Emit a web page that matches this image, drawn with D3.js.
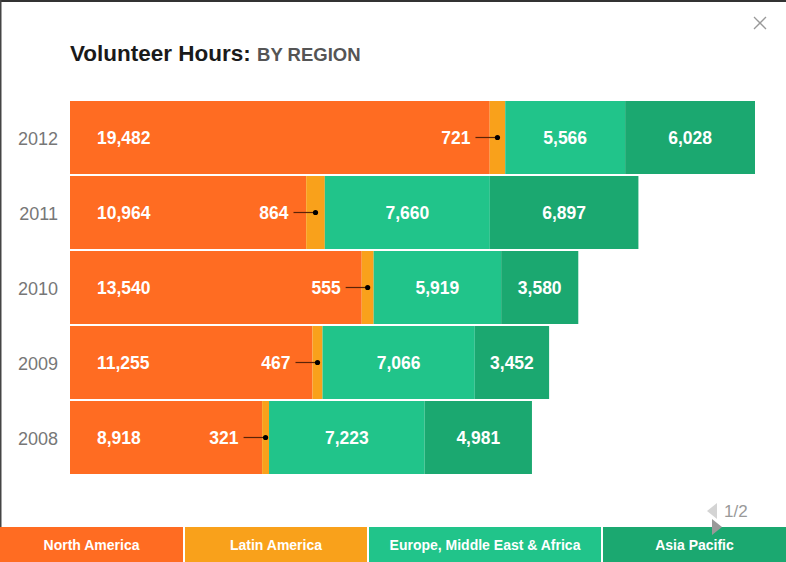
<!DOCTYPE html>
<html>
<head>
<meta charset="utf-8">
<script src="https://cdn.jsdelivr.net/npm/d3@7"></script>
<style>
  html, body { margin: 0; padding: 0; background: #fff; }
  svg { display: block; font-family: "Liberation Sans", Arial, Helvetica, sans-serif; }
</style>
</head>
<body>
<div id="chart"></div>
<script>
// data
var years = ["2012", "2011", "2010", "2009", "2008"];
var regions = ["North America", "Latin America", "Europe, Middle East & Africa", "Asia Pacific"];
var northAmerica = [19482, 10964, 13540, 11255, 8918];
var latinAmerica = [721, 864, 555, 467, 321];
var emea = [5566, 7660, 5919, 7066, 7223];
var asiaPacific = [6028, 6897, 3580, 3452, 4981];

var colors = ["#ff6c22", "#f9a11b", "#21c48a", "#1ba870"];

var W = 786, H = 562;

var svg = d3.select("#chart")
  .append("svg")
    .attr("width", W)
    .attr("height", H);

// frame lines (top / left)
svg.append("rect").attr("x", 0).attr("y", 0).attr("width", W).attr("height", 2).attr("fill", "#333");
svg.append("rect").attr("x", 0).attr("y", 0).attr("width", 1.5).attr("height", H).attr("fill", "#444");

// title
var title = svg.append("text")
  .attr("x", 70)
  .attr("y", 61);
title.append("tspan")
  .attr("font-size", "22.5px")
  .attr("font-weight", "bold")
  .attr("fill", "#1a1a1a")
  .text("Volunteer Hours: ");
title.append("tspan")
  .attr("font-size", "18.5px")
  .attr("font-weight", "bold")
  .attr("fill", "#555")
  .text("BY REGION");

// close icon
var close = svg.append("g").attr("transform", "translate(760,23)")
  .attr("stroke", "#999").attr("stroke-width", 1.3);
close.append("line").attr("x1", -6).attr("y1", -6).attr("x2", 6).attr("y2", 6);
close.append("line").attr("x1", -6).attr("y1", 6).attr("x2", 6).attr("y2", -6);

// build table
var table = years.map(function(y, i) {
  return { year: y, "North America": northAmerica[i], "Latin America": latinAmerica[i],
           "Europe, Middle East & Africa": emea[i], "Asia Pacific": asiaPacific[i] };
});

var series = d3.stack().keys(regions)(table);

var maxTotal = d3.max(series[series.length - 1], function(d) { return d[1]; });

var x = d3.scaleLinear()
  .domain([0, maxTotal])
  .range([70, 755]);

var y = d3.scaleBand()
  .domain(years)
  .range([101, 474])
  .paddingInner(2 / 75)
  .paddingOuter(0);

var fmt = d3.format(",");

// bars
svg.append("g").selectAll("g")
  .data(series)
  .enter()
  .append("g")
    .attr("fill", function(d, i) { return colors[i]; })
  .selectAll("rect")
  .data(function(d) { return d; })
  .enter()
  .append("rect")
    .attr("x", function(d) { return x(d[0]); })
    .attr("y", function(d) { return y(d.data.year); })
    .attr("width", function(d) { return x(d[1]) - x(d[0]); })
    .attr("height", y.bandwidth());

// year axis
var yAxis = svg.append("g")
  .attr("transform", "translate(58,0)")
  .call(d3.axisLeft(y).tickSize(0).tickPadding(0));
yAxis.select(".domain").remove();
yAxis.selectAll("text")
  .attr("font-family", "'Liberation Sans', Arial, sans-serif")
  .attr("font-size", "18px")
  .attr("fill", "#777")
  .attr("dy", "0.4em");

var labels = svg.append("g")
  .attr("font-size", "17.5px")
  .attr("font-weight", "bold")
  .attr("fill", "#fff");

// North America labels (left aligned)
labels.selectAll(".na")
  .data(series[0])
  .enter()
  .append("text")
    .attr("x", function(d) { return x(d[0]) + 27; })
    .attr("y", function(d) { return y(d.data.year) + y.bandwidth() / 2; })
    .attr("dy", "0.36em")
    .text(function(d) { return fmt(d[1] - d[0]); });

// Latin America: leader line + dot + label to the left
var lat = svg.append("g").selectAll("g")
  .data(series[1])
  .enter()
  .append("g")
    .attr("transform", function(d) {
      return "translate(" + ((x(d[0]) + x(d[1])) / 2) + "," + (y(d.data.year) + y.bandwidth() / 2) + ")";
    });
lat.append("line")
  .attr("x1", -22).attr("x2", 0)
  .attr("stroke", "#5a2408").attr("stroke-width", 1.2);
lat.append("circle")
  .attr("r", 2.6)
  .attr("fill", "#000");
lat.append("text")
  .attr("x", -27)
  .attr("dy", "0.36em")
  .attr("text-anchor", "end")
  .attr("font-size", "17.5px")
  .attr("font-weight", "bold")
  .attr("fill", "#fff")
  .text(function(d) { return fmt(d[1] - d[0]); });

// Europe and Asia labels (centred)
[2, 3].forEach(function(k) {
  labels.selectAll(".c" + k)
    .data(series[k])
    .enter()
    .append("text")
      .attr("x", function(d) { return (x(d[0]) + x(d[1])) / 2; })
      .attr("y", function(d) { return y(d.data.year) + y.bandwidth() / 2; })
      .attr("dy", "0.36em")
      .attr("text-anchor", "middle")
      .text(function(d) { return fmt(d[1] - d[0]); });
});

// legend strip along the bottom
var legendEdges = [0, 185, 369, 603, 788];
var legend = svg.append("g").selectAll("g")
  .data(regions)
  .enter()
  .append("g");
legend.append("rect")
  .attr("x", function(d, i) { return legendEdges[i]; })
  .attr("y", 527)
  .attr("width", function(d, i) { return legendEdges[i + 1] - legendEdges[i] - 2; })
  .attr("height", 36)
  .attr("fill", function(d, i) { return colors[i]; });
legend.append("text")
  .attr("x", function(d, i) { return (legendEdges[i] + legendEdges[i + 1] - 2) / 2; })
  .attr("y", 550)
  .attr("text-anchor", "middle")
  .attr("font-size", "14px")
  .attr("font-weight", "bold")
  .attr("fill", "#fff")
  .text(function(d) { return d; });

// pager
svg.append("path")
  .attr("d", "M717,503 L717,519 L707,511 Z")
  .attr("fill", "#d4d4d4");
svg.append("path")
  .attr("d", "M712,519 L712,535 L722,527 Z")
  .attr("fill", "#999");
svg.append("text")
  .attr("x", 724)
  .attr("y", 517)
  .attr("font-family", "'Liberation Sans Narrow', 'Liberation Sans', Arial, sans-serif")
  .attr("font-size", "17px")
  .attr("fill", "#999")
  .text("1/2");
</script>
</body>
</html>
